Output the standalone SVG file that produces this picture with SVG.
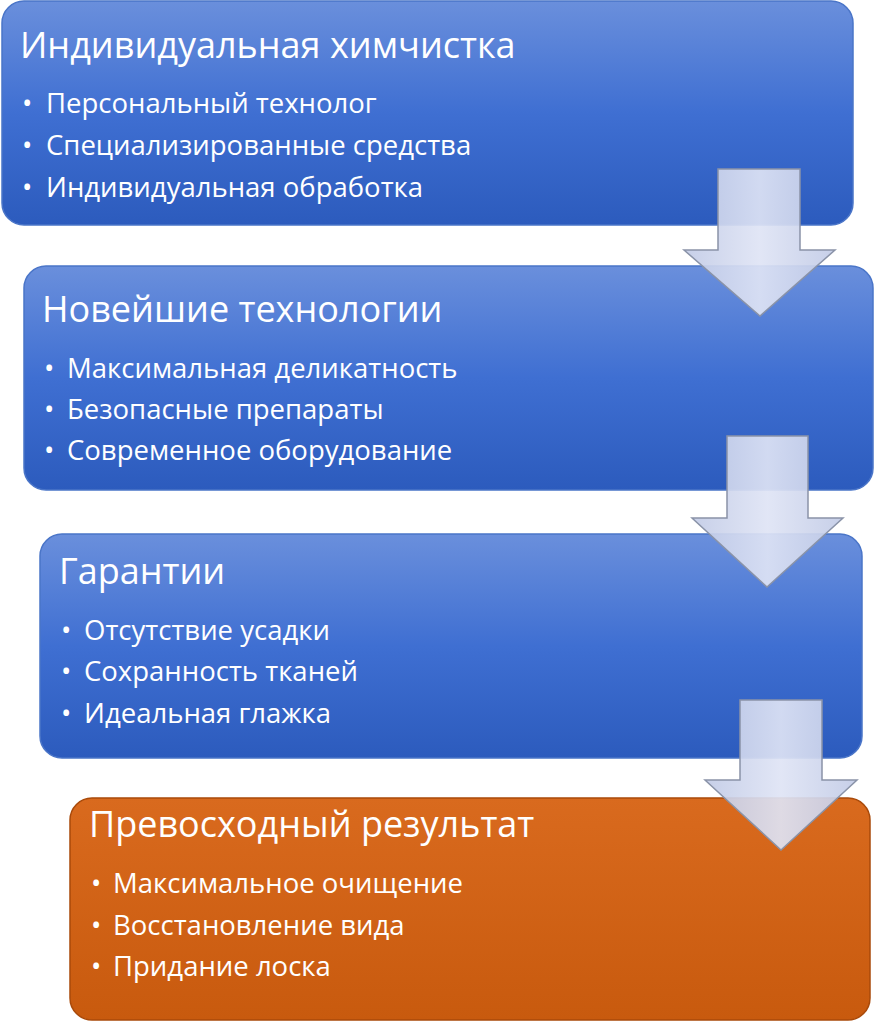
<svg xmlns="http://www.w3.org/2000/svg" width="875" height="1024" viewBox="0 0 875 1024">
<defs>
<linearGradient id="gb" x1="0" y1="0" x2="0" y2="1"><stop offset="0" stop-color="#6a8fdc"/><stop offset="0.5" stop-color="#3f6fd2"/><stop offset="1" stop-color="#2c5bbd"/></linearGradient>
<linearGradient id="go" x1="0" y1="0" x2="0" y2="1"><stop offset="0" stop-color="#d96a1e"/><stop offset="1" stop-color="#c85a0e"/></linearGradient>
<linearGradient id="ga" x1="0" y1="0" x2="1" y2="0"><stop offset="0" stop-color="#c2cbe6"/><stop offset="0.5" stop-color="#dfe4f5"/><stop offset="1" stop-color="#c2cbe6"/></linearGradient>
<style>
.b{stroke:#4a75c8;stroke-width:1.5}
.o{stroke:#a94a0a;stroke-width:1.5}
.t{font-family:"Open Sans","Liberation Sans",sans-serif;fill:#fff;font-size:36px}
.s{font-family:"Open Sans","Liberation Sans",sans-serif;fill:#fff;font-size:27.5px}
.a{fill:url(#ga);fill-opacity:0.92;stroke:#8a93a8;stroke-width:1.5}
</style>
</defs>
<g id="n1"><rect x="2" y="1" width="851" height="224" rx="22" fill="url(#gb)" class="b"/>
<text class="t" x="20" y="58">Индивидуальная химчистка</text>
<text class="s" x="22" y="113">•</text><text class="s" x="46" y="113">Персональный технолог</text>
<text class="s" x="22" y="155">•</text><text class="s" x="46" y="155">Специализированные средства</text>
<text class="s" x="22" y="197">•</text><text class="s" x="46" y="197">Индивидуальная обработка</text></g>
<g id="n2"><rect x="24" y="266" width="849" height="224" rx="22" fill="url(#gb)" class="b"/>
<text class="t" x="42" y="322">Новейшие технологии</text>
<text class="s" x="44" y="378">•</text><text class="s" x="67" y="378">Максимальная деликатность</text>
<text class="s" x="44" y="419">•</text><text class="s" x="67" y="419">Безопасные препараты</text>
<text class="s" x="44" y="460">•</text><text class="s" x="67" y="460">Современное оборудование</text></g>
<g id="n3"><rect x="40" y="534" width="822" height="224" rx="22" fill="url(#gb)" class="b"/>
<text class="t" x="59" y="584">Гарантии</text>
<text class="s" x="61" y="640">•</text><text class="s" x="84" y="640">Отсутствие усадки</text>
<text class="s" x="61" y="681">•</text><text class="s" x="84" y="681">Сохранность тканей</text>
<text class="s" x="61" y="723">•</text><text class="s" x="84" y="723">Идеальная глажка</text></g>
<g id="n4"><rect x="70" y="798" width="800" height="222" rx="22" fill="url(#go)" class="o"/>
<text class="t" x="89" y="837">Превосходный результат</text>
<text class="s" x="91" y="893">•</text><text class="s" x="113" y="893">Максимальное очищение</text>
<text class="s" x="91" y="935">•</text><text class="s" x="113" y="935">Восстановление вида</text>
<text class="s" x="91" y="976">•</text><text class="s" x="113" y="976">Придание лоска</text></g>
<g id="connectors">
<path class="a" d="M718 169H800V250H835L760 316L684 250H718Z"/>
<path class="a" d="M727 436H808V518H843L767 587L692 518H727Z"/>
<path class="a" d="M740 700H822V780H857L781 850L705 780H740Z"/>
</g>
</svg>
